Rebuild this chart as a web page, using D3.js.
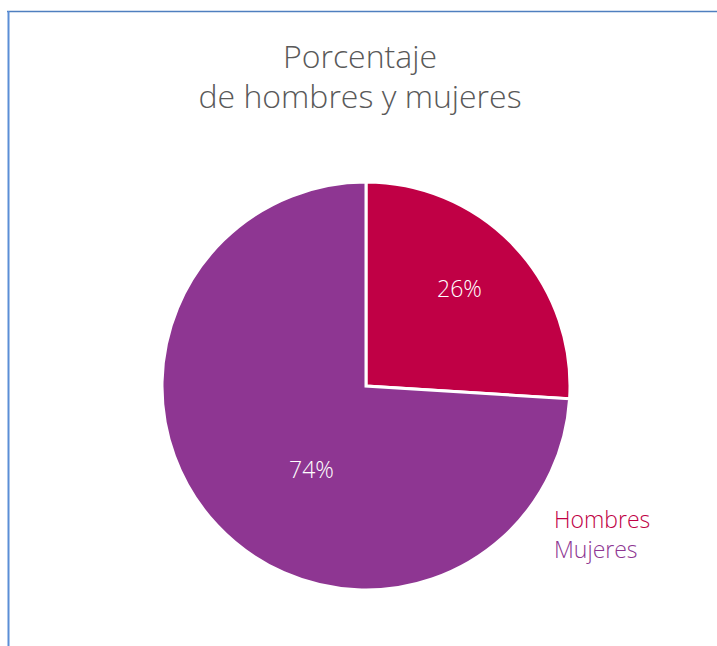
<!DOCTYPE html>
<html>
<head>
<script src="https://cdn.jsdelivr.net/npm/d3@7"></script>
<style>
  body { margin: 0; background: #fff; }
</style>
</head>
<body>
<div id="viz"></div>
<script>
var categories = ["Hombres", "Mujeres"];
var values = [26, 74];
var colors = ["#c00045", "#8e3692"];
var titleLines = ["Porcentaje", "de hombres y mujeres"];

var w = 717, h = 646;
var cx = 366, cy = 386, r = 204;
var font = "'Open Sans', 'DejaVu Sans', sans-serif";
// label placement per slice: distance (fraction of radius) and angle nudge (radians)
var labelRadius = [0.66, 0.49];
var labelShift = [-0.05, -0.24];

var svg = d3.select("#viz").append("svg")
    .attr("width", w)
    .attr("height", h);

// frame lines
svg.append("line")
    .attr("x1", 7).attr("y1", 11.5).attr("x2", w).attr("y2", 11.5)
    .style("stroke", "#4f7fbf").style("stroke-width", 1.5);
svg.append("line")
    .attr("x1", 8.5).attr("y1", 11).attr("x2", 8.5).attr("y2", h)
    .style("stroke", "#5b8ed6").style("stroke-width", 2);

// title
svg.selectAll("text.title").data(titleLines).enter()
    .append("text")
    .attr("class", "title")
    .attr("x", 360)
    .attr("y", function(d, i){ return 68 + i * 40; })
    .attr("text-anchor", "middle")
    .style("font-family", font)
    .style("font-weight", 300)
    .style("font-size", "32px")
    .style("fill", "#595959")
    .text(function(d){ return d; });

var pie = d3.pie().sort(null)(values);
var arc = d3.arc().innerRadius(0).outerRadius(r);

var g = svg.append("g").attr("transform", "translate(" + cx + "," + cy + ")");

g.selectAll("path").data(pie).enter()
    .append("path")
    .attr("d", arc)
    .style("fill", function(d, i){ return colors[i]; })
    .style("stroke", "#fff")
    .style("stroke-width", 3);

g.selectAll("text").data(pie).enter()
    .append("text")
    .attr("transform", function(d, i){
        var a = (d.startAngle + d.endAngle) / 2 + labelShift[i];
        var lr = r * labelRadius[i];
        return "translate(" + (Math.sin(a) * lr) + "," + (-Math.cos(a) * lr) + ")";
    })
    .attr("dy", "0.35em")
    .attr("text-anchor", "middle")
    .style("font-family", font)
    .style("font-weight", 300)
    .style("font-size", "23px")
    .style("fill", "#fff")
    .text(function(d){ return d.data + "%"; });

// legend
svg.selectAll("text.legend").data(categories).enter()
    .append("text")
    .attr("class", "legend")
    .attr("x", 554)
    .attr("y", function(d, i){ return 528 + i * 30; })
    .style("font-family", font)
    .style("font-weight", 300)
    .style("font-size", "23px")
    .style("fill", function(d, i){ return colors[i]; })
    .text(function(d){ return d; });
</script>
</body>
</html>
